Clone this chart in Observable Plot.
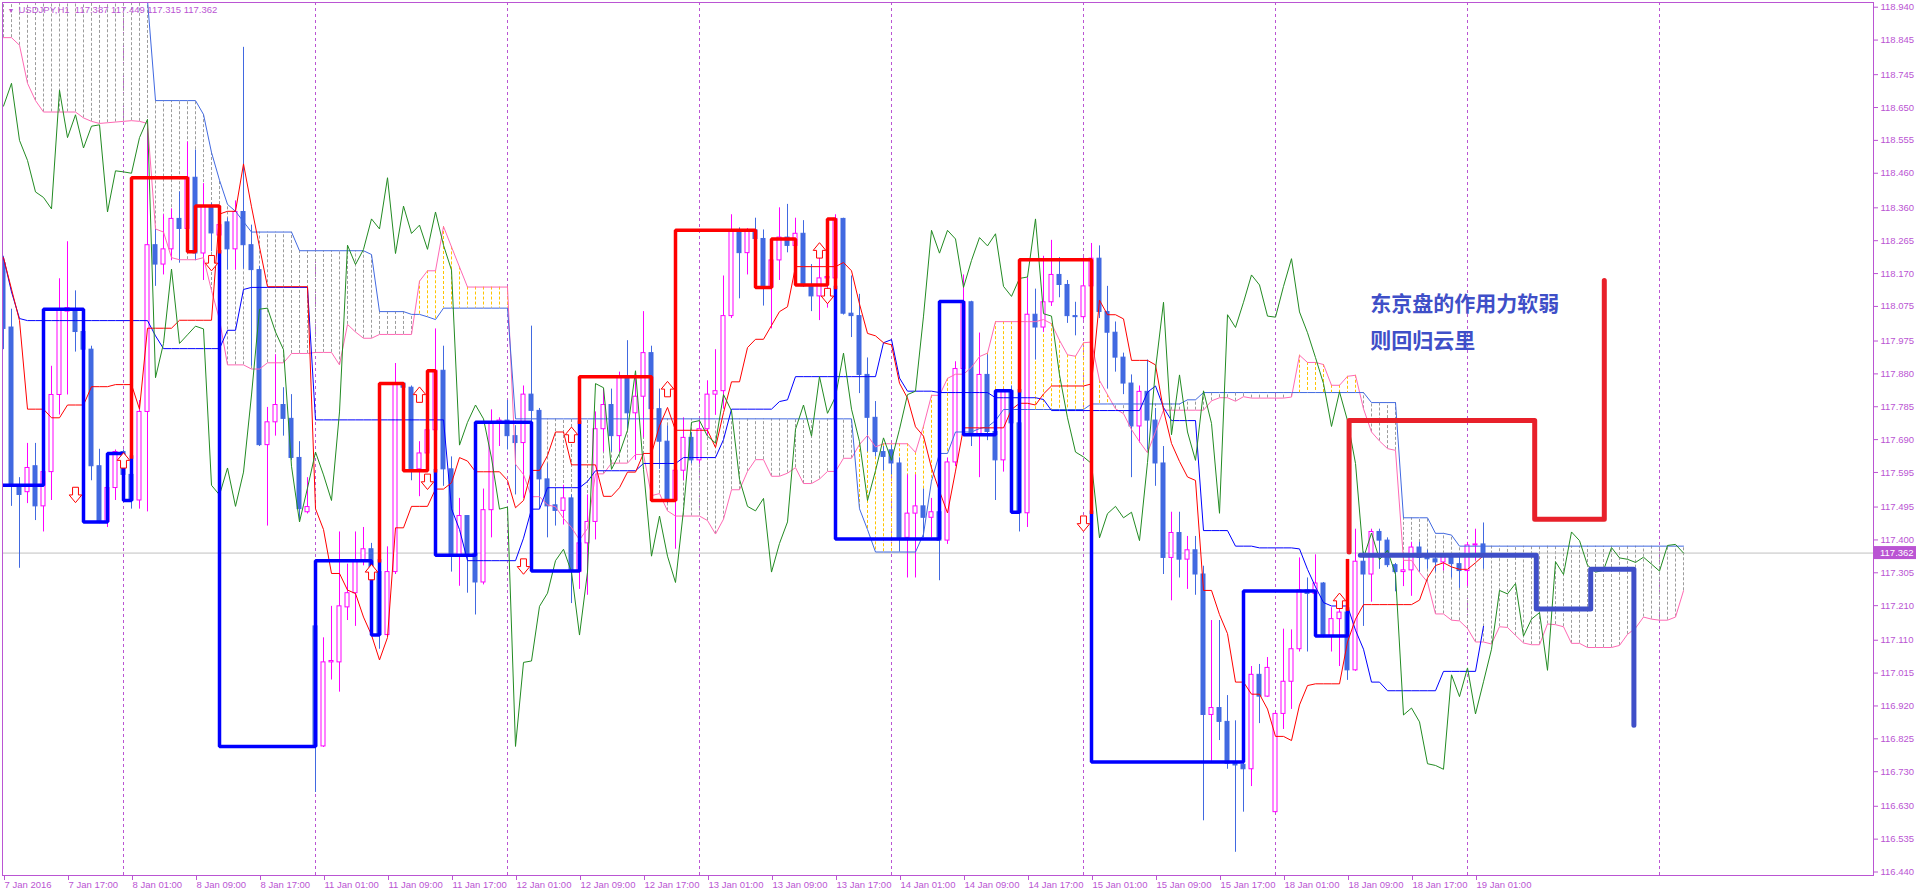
<!DOCTYPE html>
<html><head><meta charset="utf-8">
<script src="https://cdn.jsdelivr.net/npm/d3@7"></script>
<script src="https://cdn.jsdelivr.net/npm/@observablehq/plot@0.6"></script>
<style>html,body{margin:0;padding:0;background:#fff;overflow:hidden}svg{display:block}</style>
</head><body><div id="chart"></div>
<script>
// ---- USDJPY H1 candles, bar 0 = 7 Jan 09:00 ----
const open = [
118.20,118.014,117.558,117.538,117.613,117.497,117.596,117.819,118.06,118.067,
118.001,117.95,117.613,117.452,117.55,117.654,117.588,117.514,117.77,118.252,
118.196,118.24,118.328,118.299,118.447,118.228,118.365,118.28,118.318,118.24,
118.348,118.252,118.18,117.674,117.74,117.79,117.75,117.637,117.48,117.15,
116.803,117.046,117.046,117.205,117.246,117.34,117.373,117.307,117.125,117.307,
117.852,117.84,117.604,117.65,117.717,117.889,117.604,117.353,117.469,117.36,
117.277,117.486,117.74,117.745,117.70,117.68,117.82,117.773,117.575,117.50,
117.484,117.52,117.307,117.39,117.452,117.72,117.79,117.70,117.872,117.766,
117.814,117.94,117.778,117.684,117.514,117.60,117.695,117.63,117.72,117.82,
117.83,118.047,118.295,118.229,118.295,118.27,118.13,118.208,118.274,118.25,
118.285,118.133,118.104,118.156,118.156,118.328,118.054,118.047,117.877,117.753,
117.654,117.659,117.621,117.406,117.476,117.497,117.464,117.48,117.398,117.624,
117.894,118.087,117.704,117.877,117.712,117.63,117.831,117.737,117.477,118.051,
118.014,118.087,118.166,118.137,118.047,118.044,118.133,118.213,118.059,117.999,
117.927,117.852,117.728,117.828,117.745,117.621,117.348,117.42,117.343,117.37,
117.30,116.894,116.914,116.874,116.755,116.75,116.737,117.01,116.947,116.613,
116.897,116.99,117.084,117.254,117.244,117.274,117.122,117.171,117.19,117.023,
117.337,117.30,117.423,117.398,117.327,117.307,117.312,117.378,117.35,117.344,
117.335,117.35,117.33,117.31,117.384,117.387];
const high = [
118.22,118.067,117.58,117.679,117.679,117.654,117.902,118.155,118.262,118.12,
118.05,117.96,117.662,117.56,117.66,117.66,117.65,117.803,118.588,118.299,
118.34,118.357,118.406,118.55,118.527,118.43,118.373,118.35,118.33,118.38,
118.824,118.31,118.19,117.783,117.935,117.84,117.82,117.684,117.58,117.183,
117.117,117.208,117.423,117.33,117.423,117.436,117.39,117.34,117.38,117.91,
117.853,117.845,117.684,117.885,118.01,117.96,117.64,117.52,117.47,117.406,
117.547,117.776,117.753,117.803,117.73,117.845,118.018,117.78,117.62,117.55,
117.558,117.53,117.44,117.53,117.77,117.836,117.836,117.885,117.976,117.876,
118.06,117.96,117.836,117.73,117.637,117.753,117.71,117.745,117.86,117.95,
118.163,118.34,118.302,118.30,118.33,118.296,118.27,118.36,118.37,118.33,
118.323,118.196,118.216,118.21,118.34,118.33,118.163,118.11,117.926,117.80,
117.67,117.674,117.637,117.588,117.588,117.547,117.52,117.52,117.637,117.915,
118.166,118.09,117.998,117.935,117.73,117.836,117.845,117.745,118.158,118.125,
118.22,118.266,118.216,118.15,118.087,118.216,118.257,118.25,118.133,118.03,
117.94,117.877,117.845,117.92,117.78,117.67,117.48,117.48,117.41,117.41,
117.324,117.167,117.167,116.95,116.877,116.85,117.034,117.04,117.06,116.902,
117.142,117.14,117.348,117.29,117.357,117.277,117.204,117.24,117.208,117.431,
117.365,117.431,117.431,117.406,117.332,117.35,117.393,117.393,117.37,117.36,
117.36,117.36,117.35,117.393,117.431,117.449];
const low = [
117.95,117.497,117.318,117.505,117.456,117.423,117.514,117.761,117.819,117.943,
117.87,117.571,117.447,117.436,117.514,117.54,117.489,117.489,117.481,118.133,
118.166,118.207,118.20,118.257,118.207,118.15,118.233,118.20,118.18,118.18,
118.183,117.902,117.67,117.44,117.70,117.70,117.63,117.456,117.475,116.67,
116.80,116.995,116.96,117.167,117.15,117.325,117.208,117.084,117.12,117.30,
117.82,117.571,117.525,117.604,117.675,117.555,117.307,117.266,117.246,117.183,
117.27,117.406,117.67,117.66,117.53,117.52,117.62,117.489,117.406,117.44,
117.443,117.216,117.257,117.24,117.40,117.654,117.654,117.654,117.72,117.63,
117.695,117.705,117.604,117.505,117.373,117.571,117.62,117.62,117.70,117.76,
117.778,118.04,118.097,118.166,118.265,118.076,118.01,118.15,118.23,118.24,
118.13,118.06,118.034,118.07,118.15,118.05,117.985,117.823,117.654,117.64,
117.60,117.588,117.365,117.29,117.29,117.406,117.406,117.282,117.387,117.612,
117.885,117.67,117.58,117.687,117.514,117.596,117.712,117.423,117.436,117.92,
118.0,118.075,118.10,118.026,117.99,118.035,118.06,118.04,117.836,117.885,
117.82,117.58,117.68,117.66,117.555,117.30,117.224,117.29,117.257,117.24,
116.588,116.76,116.82,116.737,116.497,116.613,116.687,116.869,116.945,116.61,
116.852,116.91,117.076,117.076,117.183,117.117,117.076,117.034,116.994,117.02,
117.15,117.22,117.315,117.32,117.25,117.265,117.237,117.307,117.315,117.307,
117.31,117.29,117.26,117.265,117.34,117.315];
const close = [
118.01,117.558,117.53,117.608,117.497,117.596,117.819,118.067,118.07,118.001,
117.95,117.613,117.452,117.55,117.654,117.588,117.514,117.77,118.252,118.196,
118.24,118.328,118.299,118.447,118.228,118.365,118.286,118.31,118.24,118.348,
118.252,118.18,117.674,117.74,117.79,117.75,117.637,117.489,117.495,116.803,
117.046,117.05,117.208,117.246,117.34,117.373,117.307,117.125,117.307,117.852,
117.84,117.604,117.65,117.717,117.889,117.604,117.353,117.469,117.353,117.277,
117.486,117.74,117.745,117.70,117.68,117.82,117.773,117.575,117.497,117.484,
117.52,117.307,117.39,117.452,117.72,117.79,117.70,117.872,117.766,117.814,
117.94,117.778,117.684,117.514,117.60,117.695,117.63,117.72,117.82,117.83,
118.047,118.295,118.229,118.295,118.27,118.13,118.208,118.274,118.25,118.285,
118.133,118.104,118.156,118.16,118.328,118.054,118.047,117.877,117.753,117.654,
117.64,117.621,117.406,117.476,117.497,117.464,117.48,117.398,117.624,117.894,
118.087,117.704,117.877,117.712,117.63,117.831,117.737,117.477,118.051,118.014,
118.087,118.166,118.137,118.047,118.044,118.133,118.213,118.059,117.999,117.927,
117.852,117.728,117.828,117.745,117.621,117.348,117.42,117.343,117.37,117.30,
116.894,116.914,116.874,116.753,116.748,116.737,117.01,116.947,117.03,116.897,
116.99,117.084,117.254,117.244,117.274,117.122,117.171,117.19,117.023,117.337,
117.30,117.423,117.398,117.327,117.307,117.312,117.378,117.348,117.344,117.335,
117.35,117.33,117.31,117.384,117.387,117.362];

// ---- Ichimoku lines read per bar ----
const tenkan = [
118.216,118.125,118.034,117.778,117.778,117.778,117.753,117.753,117.79,117.79,
117.79,117.843,117.843,117.843,117.849,117.849,117.849,117.778,118.012,118.012,
118.012,118.012,118.035,118.035,118.035,118.035,118.035,118.342,118.35,118.35,
118.487,118.363,118.247,118.132,118.132,118.132,118.132,118.132,118.132,117.49,
117.43,117.303,117.303,117.255,117.245,117.177,117.125,117.053,117.118,117.435,
117.435,117.497,117.497,117.497,117.547,117.547,117.565,117.638,117.628,117.597,
117.597,117.597,117.597,117.572,117.493,117.514,117.601,117.601,117.644,117.712,
117.712,117.617,117.617,117.617,117.617,117.526,117.526,117.551,117.596,117.596,
117.65,117.65,117.73,117.783,117.717,117.717,117.717,117.717,117.717,117.667,
117.768,117.857,117.857,117.956,117.98,117.98,118.02,118.06,118.074,118.19,
118.19,118.19,118.19,118.19,118.19,118.202,118.178,118.082,117.997,117.99,
117.97,117.964,117.853,117.81,117.727,117.70,117.608,117.541,117.478,117.599,
117.724,117.724,117.724,117.724,117.724,117.724,117.777,117.795,117.795,117.79,
117.822,117.845,117.845,117.845,117.845,117.845,117.851,118.093,118.051,118.051,
118.039,117.919,117.919,117.919,117.906,117.775,117.679,117.627,117.582,117.572,
117.254,117.254,117.184,117.129,116.989,116.989,116.954,116.954,116.911,116.832,
116.832,116.82,116.923,116.979,116.984,116.984,116.984,116.984,117.105,117.171,
117.213,117.213,117.213,117.213,117.213,117.213,117.213,117.226,117.29,117.326,
117.334,117.322,117.315,117.315,117.334,117.355];
const kijun = [
118.216,118.117,118.04,118.034,118.034,118.034,118.034,118.034,118.034,118.034,
118.034,118.034,118.034,118.034,118.034,118.034,118.034,118.034,118.034,117.99,
117.953,117.953,117.953,117.953,117.953,117.953,117.953,117.953,118.006,118.006,
118.124,118.13,118.13,118.13,118.13,118.13,118.13,118.13,118.13,117.747,
117.747,117.747,117.747,117.747,117.747,117.747,117.747,117.747,117.747,117.747,
117.747,117.747,117.747,117.747,117.747,117.747,117.49,117.43,117.34,117.34,
117.34,117.34,117.34,117.34,117.34,117.405,117.489,117.489,117.551,117.551,
117.551,117.551,117.551,117.569,117.6,117.6,117.6,117.6,117.6,117.6,
117.621,117.621,117.621,117.621,117.621,117.638,117.638,117.638,117.638,117.638,
117.69,117.778,117.778,117.778,117.778,117.778,117.778,117.80,117.805,117.872,
117.872,117.872,117.872,117.872,117.872,117.872,117.872,117.872,117.872,117.872,
117.97,117.979,117.868,117.83,117.83,117.83,117.83,117.826,117.826,117.826,
117.826,117.826,117.826,117.826,117.811,117.811,117.811,117.811,117.811,117.811,
117.806,117.774,117.774,117.774,117.774,117.774,117.774,117.774,117.774,117.774,
117.774,117.774,117.774,117.827,117.845,117.783,117.745,117.745,117.745,117.745,
117.427,117.427,117.427,117.427,117.382,117.382,117.382,117.377,117.377,117.377,
117.377,117.377,117.374,117.315,117.264,117.219,117.209,117.209,117.209,117.139,
117.084,116.989,116.989,116.964,116.964,116.964,116.964,116.964,116.964,116.964,
117.02,117.02,117.02,117.02,117.02,117.15];
const spanA = [
118.852,118.852,118.83,118.72,118.67,118.637,118.637,118.637,118.637,118.637,
118.62,118.61,118.604,118.606,118.608,118.61,118.612,118.61,118.604,118.299,
118.29,118.216,118.21,118.21,118.21,118.216,118.121,118.037,117.906,117.906,
117.906,117.894,117.894,117.912,117.912,117.912,117.939,117.939,117.939,117.942,
117.942,117.942,117.906,118.023,118.001,117.983,117.983,117.994,117.994,117.994,
117.994,117.994,118.148,118.178,118.178,118.306,118.247,118.189,118.131,118.131,
118.131,118.131,118.131,118.131,117.619,117.589,117.525,117.525,117.501,117.496,
117.462,117.436,117.40,117.433,117.591,117.591,117.622,117.622,117.622,117.647,
117.647,117.528,117.534,117.484,117.469,117.469,117.469,117.469,117.456,117.417,
117.46,117.545,117.545,117.598,117.632,117.632,117.584,117.584,117.593,117.609,
117.563,117.563,117.576,117.598,117.598,117.636,117.636,117.676,117.702,117.669,
117.678,117.678,117.678,117.678,117.653,117.729,117.818,117.818,117.867,117.879,
117.879,117.899,117.93,117.94,118.031,118.031,118.031,118.031,118.031,118.031,
118.037,118.025,117.977,117.935,117.931,117.97,117.972,117.861,117.82,117.779,
117.765,117.719,117.684,117.652,117.713,117.775,117.775,117.775,117.775,117.775,
117.775,117.802,117.811,117.811,117.801,117.814,117.81,117.81,117.81,117.81,
117.81,117.813,117.934,117.913,117.913,117.907,117.847,117.847,117.873,117.876,
117.779,117.712,117.686,117.664,117.659,117.341,117.341,117.306,117.278,117.186,
117.186,117.168,117.166,117.144,117.105,117.105,117.099,117.149,117.147,117.124,
117.102,117.097,117.097,117.157,117.155,117.149,117.101,117.101,117.089,117.089,
117.089,117.089,117.095,117.127,117.145,117.177,117.171,117.168,117.168,117.177,
117.253];
const spanB = [
119.05,119.05,119.05,119.05,119.05,119.05,119.05,119.05,119.05,119.05,
119.05,119.05,119.05,119.05,119.05,119.05,119.05,119.05,118.96,118.67,
118.67,118.67,118.67,118.67,118.67,118.63,118.52,118.44,118.37,118.35,
118.32,118.29,118.29,118.29,118.29,118.29,118.29,118.236,118.236,118.236,
118.236,118.236,118.236,118.236,118.236,118.236,118.225,118.06,118.06,118.06,
118.06,118.052,118.052,118.045,118.037,118.07,118.07,118.07,118.07,118.07,
118.07,118.07,118.07,118.07,117.75,117.75,117.75,117.75,117.75,117.75,
117.75,117.75,117.75,117.75,117.75,117.75,117.75,117.75,117.75,117.75,
117.75,117.75,117.75,117.75,117.75,117.75,117.75,117.75,117.75,117.75,
117.75,117.75,117.75,117.75,117.75,117.75,117.75,117.75,117.75,117.75,
117.75,117.75,117.75,117.75,117.75,117.75,117.75,117.49,117.43,117.365,
117.365,117.365,117.365,117.365,117.365,117.417,117.57,117.65,117.65,117.712,
117.712,117.712,117.722,117.727,117.745,117.777,117.777,117.777,117.777,117.777,
117.777,117.777,117.777,117.777,117.777,117.777,117.793,117.793,117.793,117.793,
117.793,117.793,117.793,117.793,117.793,117.793,117.793,117.793,117.805,117.805,
117.826,117.826,117.826,117.826,117.826,117.826,117.826,117.826,117.826,117.826,
117.826,117.826,117.826,117.826,117.826,117.826,117.826,117.826,117.826,117.826,
117.826,117.797,117.797,117.797,117.797,117.464,117.464,117.464,117.464,117.419,
117.419,117.414,117.382,117.382,117.382,117.382,117.382,117.382,117.382,117.382,
117.382,117.382,117.382,117.382,117.382,117.382,117.382,117.382,117.382,117.382,
117.382,117.382,117.382,117.382,117.382,117.382,117.382,117.382,117.382,117.382,
117.382];
// green lagging line: first 25 values read, then the closes displaced by 25 bars
const greenHead = [118.654,118.72,118.555,118.497,118.406,118.39,118.357,118.70,118.563,118.629,
118.533,118.596,118.60,118.348,118.467,118.464,118.46,118.563,118.616,117.869,
117.968,118.183,117.968,117.993,118.018];

// ---- thick step indicator (blue = down phase, red = up phase), [bar, price] ----
const hiloBlue = [
 [[0,117.558],[5,117.558],[5,118.067],[10,118.067],[10,117.452],[13,117.452],[13,117.65],[15,117.65],[15,117.514],[16,117.514],[16,117.64]],
 [[27,118.233],[27,116.803],[39,116.803],[39,117.34],[46,117.34],[46,117.125],[47,117.125],[47,117.34]],
 [[54,117.6],[54,117.356],[59,117.356],[59,117.74],[66,117.74],[66,117.31],[72,117.31],[72,117.74]],
 [[104,118.13],[104,117.403],[117,117.403],[117,118.089],[120,118.089],[120,117.704],[124,117.704],[124,117.831],[126,117.831],[126,117.48],[127,117.48],[127,117.831]],
 [[136,117.48],[136,116.758],[155,116.758],[155,117.252],[164,117.252],[164,117.122],[168,117.122],[168,117.2]]
];
const hiloRed = [
 [[16,117.64],[16,118.447],[23,118.447],[23,118.233],[24,118.233],[24,118.365],[27,118.365],[27,118.233]],
 [[47,117.34],[47,117.852],[50,117.852],[50,117.6],[53,117.6],[53,117.889],[54,117.889],[54,117.6]],
 [[72,117.74],[72,117.872],[81,117.872],[81,117.514],[84,117.514],[84,118.295],[94,118.295],[94,118.13],[96,118.13],[96,118.27],[99,118.27],[99,118.137],[103,118.137],[103,118.328],[104,118.328],[104,118.13]],
 [[127,117.831],[127,118.21],[136,118.21],[136,117.48]],
 [[168,117.2],[168,117.34]]
];
// hand-drawn projection objects
const drawnRed = [[168.2,117.365],[168.2,117.745],[191.4,117.745],[191.4,117.46],[200.1,117.46],[200.1,118.15]];
const drawnBlue = [[169.6,117.356],[191.6,117.356],[191.6,117.2],[198.4,117.2],[198.4,117.315],[203.8,117.315],[203.8,116.864]];
// signal arrows [bar, price]
const arrowUp = [[15,117.63],[46,117.307],[52,117.82],[71,117.704],[83,117.836],[102,118.237],[167,117.224]];
const arrowDown = [[9,117.53],[26,118.2],[53,117.568],[65,117.323],[103,118.105],[135,117.447]];
// annotation
const annoLines = ["东京盘的作用力软弱", "则回归云里"];
const annoBar = [170.85, 170.85];
const annoPrice = [118.08, 117.975];
// axes
const xTickBars = [0,8,16,24,32,40,48,56,64,72,80,88,96,104,112,120,128,136,144,152,160,168,176,184];
const xTickLabels = ["7 Jan 2016","7 Jan 17:00","8 Jan 01:00","8 Jan 09:00","8 Jan 17:00","11 Jan 01:00","11 Jan 09:00","11 Jan 17:00",
 "12 Jan 01:00","12 Jan 09:00","12 Jan 17:00","13 Jan 01:00","13 Jan 09:00","13 Jan 17:00","14 Jan 01:00","14 Jan 09:00","14 Jan 17:00",
 "15 Jan 01:00","15 Jan 09:00","15 Jan 17:00","18 Jan 01:00","18 Jan 09:00","18 Jan 17:00","19 Jan 01:00"];
const yTicks = [118.940,118.845,118.745,118.650,118.555,118.460,118.360,118.265,118.170,118.075,117.975,117.880,117.785,
 117.690,117.595,117.495,117.400,117.305,117.210,117.110,117.015,116.920,116.825,116.730,116.630,116.535,116.440];
const daySepBars = [15,39,63,87,111,135,159,183,207];
const titleText = "USDJPY,H1\u00a0\u00a0117.387 117.449 117.315 117.362";

// ---- build ----
const orchid = "#ba55d3";
const bars = open.map((o, i) => ({i, o, h: high[i], l: low[i], c: close[i]}));
const upBars = bars.filter(d => d.c >= d.o);
const dnBars = bars.filter(d => d.c < d.o);
const cloud = spanA.map((a, i) => ({i, a, b: spanB[i]}));
const chikou = greenHead.concat(close);
const series = arr => arr.map((v, i) => ({i, v}));
const segRows = segs => segs.flatMap((pts, k) => pts.map(([x, y]) => ({k, x, y})));
const lastClose = close[close.length - 1];

function arrowSym(dir) {
  return {draw(ctx, size) {
    const r = Math.sqrt(size / Math.PI);
    const w = r * 0.9, sw = r * 0.42, h = r * 1.1;
    ctx.moveTo(-sw, -h * dir); ctx.lineTo(sw, -h * dir); ctx.lineTo(sw, 0); ctx.lineTo(w, 0);
    ctx.lineTo(0, h * dir); ctx.lineTo(-w, 0); ctx.lineTo(-sw, 0); ctx.closePath();
  }};
}

const plot = Plot.plot({
  width: 1916, height: 896,
  marginLeft: 2, marginRight: 43, marginTop: 2, marginBottom: 21,
  x: {domain: [-0.125, 233.75]},
  y: {domain: [116.4299, 118.9536]},
  style: {background: "#fff", fontFamily: "'Liberation Sans', Arial, sans-serif", fontSize: "9.5px", overflow: "visible"},
  marks: [
    Plot.ruleX(daySepBars, {stroke: orchid, strokeDasharray: "3,3"}),
    Plot.ruleX(cloud.filter(d => d.a <= d.b), {x: "i", y1: "a", y2: "b", stroke: "#9c9c9c", strokeDasharray: "3,2", clip: true}),
    Plot.ruleX(cloud.filter(d => d.a > d.b), {x: "i", y1: "a", y2: "b", stroke: "#ffc400", strokeDasharray: "3,2", clip: true}),
    Plot.ruleY([lastClose], {stroke: "#c0c0c0"}),
    Plot.ruleX(upBars, {x: "i", y1: "l", y2: "h", stroke: "#ff00ff", clip: true}),
    Plot.ruleX(dnBars, {x: "i", y1: "l", y2: "h", stroke: "#4169e1", clip: true}),
    Plot.rect(upBars, {x1: d => d.i - 0.25, x2: d => d.i + 0.25, y1: "o", y2: "c", fill: "#fff", stroke: "#ff00ff", clip: true}),
    Plot.rect(dnBars, {x1: d => d.i - 0.25, x2: d => d.i + 0.25, y1: "o", y2: "c", fill: "#4169e1", stroke: "#4169e1", clip: true}),
    Plot.line(series(spanA), {x: "i", y: "v", stroke: "#ff69b4", strokeWidth: 1, clip: true}),
    Plot.line(series(spanB), {x: "i", y: "v", stroke: "#4169e1", strokeWidth: 1, clip: true}),
    Plot.line(series(kijun), {x: "i", y: "v", stroke: "#0000ff", strokeWidth: 1, clip: true}),
    Plot.line(series(tenkan), {x: "i", y: "v", stroke: "#ff0000", strokeWidth: 1, clip: true}),
    Plot.line(series(chikou), {x: "i", y: "v", stroke: "#228b22", strokeWidth: 1, clip: true}),
    Plot.line(segRows(hiloBlue), {x: "x", y: "y", z: "k", stroke: "#0000ff", strokeWidth: 3.5, strokeLinejoin: "miter", strokeLinecap: "square", clip: true}),
    Plot.line(segRows(hiloRed), {x: "x", y: "y", z: "k", stroke: "#ff0000", strokeWidth: 3.5, strokeLinejoin: "miter", strokeLinecap: "square", clip: true}),
    Plot.line(drawnRed, {x: d => d[0], y: d => d[1], stroke: "#e8202a", strokeWidth: 5, strokeLinejoin: "round", strokeLinecap: "round"}),
    Plot.line(drawnBlue, {x: d => d[0], y: d => d[1], stroke: "#3f4fc8", strokeWidth: 5, strokeLinejoin: "round", strokeLinecap: "round"}),
    Plot.dot(arrowUp, {x: d => d[0], y: d => d[1], symbol: arrowSym(-1), r: 7, stroke: "#ff0000", fill: "#fff", strokeWidth: 1}),
    Plot.dot(arrowDown, {x: d => d[0], y: d => d[1], symbol: arrowSym(1), r: 7, stroke: "#ff0000", fill: "#fff", strokeWidth: 1}),
    Plot.text(annoLines, {x: (d, i) => annoBar[i], y: (d, i) => annoPrice[i], text: d => d, textAnchor: "start",
      fill: "#3f4fc8", fontSize: 21, fontWeight: "bold", fontFamily: "'Noto Sans CJK SC', sans-serif"}),
    Plot.text([titleText], {frameAnchor: "top-left", dx: 16, dy: 4, lineAnchor: "top", textAnchor: "start", fill: orchid, text: d => d}),
    Plot.text(["▼"], {frameAnchor: "top-left", dx: 5, dy: 6, lineAnchor: "top", textAnchor: "start", fill: orchid, fontSize: 7, text: d => d}),
    Plot.axisX(xTickBars, {anchor: "bottom", tickSize: 5, tickPadding: 1, textAnchor: "start", dx: 1, color: orchid, label: null,
      tickFormat: d => xTickLabels[xTickBars.indexOf(d)]}),
    Plot.axisY(yTicks, {anchor: "right", tickSize: 4, tickPadding: 3, color: orchid, label: null, tickFormat: d => d.toFixed(3)}),
    Plot.frame({stroke: orchid})
  ]
});
document.getElementById("chart").appendChild(plot);

// current price tag on the price axis
const ys = plot.scale("y").apply(lastClose);
const svg = d3.select(plot);
svg.append("rect").attr("x", 1874).attr("y", ys - 6.5).attr("width", 42).attr("height", 13).attr("fill", orchid);
svg.append("text").attr("x", 1880).attr("y", ys).attr("dy", "0.35em").attr("fill", "#fff")
  .attr("text-anchor", "start").attr("font-size", "9.5px").text(lastClose.toFixed(3));
</script></body></html>
